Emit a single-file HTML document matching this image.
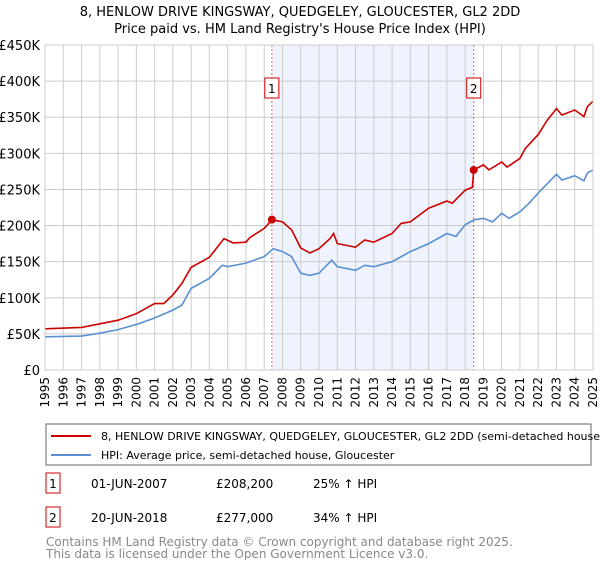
<!DOCTYPE html>
<html><head><meta charset="utf-8"><style>
body{margin:0;background:#fff;font-family:"Liberation Sans","DejaVu Sans",sans-serif;}
svg text{font-family:"DejaVu Sans","Liberation Sans",sans-serif;}
</style></head><body>
<svg id="chart" width="600" height="560" xmlns="http://www.w3.org/2000/svg">
<text x="300" y="16" text-anchor="middle" font-size="13" fill="#000">8, HENLOW DRIVE KINGSWAY, QUEDGELEY, GLOUCESTER, GL2 2DD</text>
<text x="300" y="33" text-anchor="middle" font-size="13" fill="#000">Price paid vs. HM Land Registry's House Price Index (HPI)</text>
<g id="plot"></g>
<g>
<rect x="46" y="424" width="545" height="41" fill="#fff" stroke="#666"/>
<line x1="51" y1="436" x2="91" y2="436" stroke="#cc0000" stroke-width="2"/>
<text x="101" y="440" font-size="11">8, HENLOW DRIVE KINGSWAY, QUEDGELEY, GLOUCESTER, GL2 2DD (semi-detached house)</text>
<line x1="51" y1="455" x2="91" y2="455" stroke="#5b8fd4" stroke-width="2"/>
<text x="101" y="459" font-size="11">HPI: Average price, semi-detached house, Gloucester</text>
</g>
<g>
<rect x="46" y="473" width="14" height="20" fill="#fff" stroke="#cc0000"/>
<text x="53" y="488" text-anchor="middle" font-size="12">1</text>
<text x="91" y="488" font-size="12">01-JUN-2007</text>
<text x="216" y="488" font-size="12">£208,200</text>
<text x="313" y="488" font-size="12">25% ↑ HPI</text>
</g>
<g>
<rect x="46" y="507" width="14" height="20" fill="#fff" stroke="#cc0000"/>
<text x="53" y="522" text-anchor="middle" font-size="12">2</text>
<text x="91" y="522" font-size="12">20-JUN-2018</text>
<text x="216" y="522" font-size="12">£277,000</text>
<text x="313" y="522" font-size="12">34% ↑ HPI</text>
</g>
<text x="46" y="546" font-size="12" fill="#888">Contains HM Land Registry data © Crown copyright and database right 2025.</text>
<text x="46" y="558" font-size="12" fill="#888">This data is licensed under the Open Government Licence v3.0.</text>
</svg>
<script>
const hpiYears=[1995,1997,1998,1999,2000,2001,2002,2002.5,2003,2004,2004.7,2005,2006,2007,2007.5,2008,2008.5,2009,2009.5,2010,2010.7,2011,2012,2012.5,2013,2014,2015,2016,2017,2017.5,2018,2018.5,2019,2019.5,2020,2020.4,2021,2021.5,2022,2022.5,2023,2023.3,2024,2024.5,2024.7,2025];
const hpiValues=[46,47,51,56,63,72,83,90,113,127,145,143,148,157,168,164,157,134,131,134,152,143,138,145,143,150,164,175,189,185,201,208,210,205,217,210,219,231,245,258,271,263,269,262,273,277];
const priceYears=[1995,1997,1998,1999,2000,2001,2001.5,2002,2002.5,2003,2004,2004.8,2005.3,2006,2006.2,2007,2007.42,2008,2008.5,2009,2009.5,2010,2010.6,2010.8,2011,2012,2012.5,2013,2014,2014.5,2015,2016,2017,2017.3,2018,2018.4,2018.47,2019,2019.3,2020,2020.3,2021,2021.3,2022,2022.5,2023,2023.3,2024,2024.5,2024.7,2025];
const priceValues=[57,59,64,69,78,92,92,104,120,142,156,182,176,177,183,196,208,205,194,169,162,168,182,189,175,170,180,177,189,203,205,224,234,231,249,253,277,284,277,288,281,293,307,326,346,362,353,360,351,365,372];
const saleYears=[2007.42,2018.47];
const saleValues=[208.2,277];
const saleLabels=["1","2"];
const yTicks=[0,50,100,150,200,250,300,350,400,450];
const yTickLabels=["£0","£50K","£100K","£150K","£200K","£250K","£300K","£350K","£400K","£450K"];
const xTicks=[1995,1996,1997,1998,1999,2000,2001,2002,2003,2004,2005,2006,2007,2008,2009,2010,2011,2012,2013,2014,2015,2016,2017,2018,2019,2020,2021,2022,2023,2024,2025];

const L=45,R=593,T=45,B=370;
const xS=y=>L+(y-1995)/(2025-1995)*(R-L);
const yS=v=>B-v/450*(B-T);
const NS="http://www.w3.org/2000/svg";
const g=document.getElementById('plot');
function mk(tag,attrs){const e=document.createElementNS(NS,tag);for(const k in attrs)e.setAttribute(k,attrs[k]);g.appendChild(e);return e;}
const shade=mk('rect',{x:xS(saleYears[0]),y:T,width:xS(saleYears[1])-xS(saleYears[0]),height:B-T,fill:'#eef3fd'});


xTicks.forEach(t=>{
 const l=mk('line',{x1:xS(t),x2:xS(t),y1:T,y2:B,stroke:'#cccccc','stroke-width':1});
 
 
 const tx=mk('text',{x:0,y:0,'font-size':12,'text-anchor':'end',transform:`translate(${xS(t)+4},${B+7}) rotate(-90)`});
 tx.textContent=t;
 
 
});
yTicks.forEach((t,i)=>{
 const l=mk('line',{x1:L,x2:R,y1:yS(t),y2:yS(t),stroke:'#cccccc','stroke-width':1});
 
 
 const tx=mk('text',{x:L-5,y:yS(t)+5,'font-size':13,'text-anchor':'end'});
 tx.textContent=yTickLabels[i];
 
 
});
saleYears.forEach((s,i)=>{
 const l=mk('line',{x1:xS(s),x2:xS(s),y1:T,y2:B,stroke:'#e06666','stroke-width':1,'stroke-dasharray':'2,2'});
 
 
 const r=mk('rect',{x:xS(s)-7,y:78,width:14,height:20,fill:'#fff',stroke:'#cc0000'});
 
 
 const tx=mk('text',{x:xS(s),y:93,'font-size':12,'text-anchor':'middle'});
 tx.textContent=saleLabels[i];
 
 
});
function path(xs,vs){return xs.map((x,i)=>(i?'L':'M')+xS(x).toFixed(1)+','+yS(vs[i]).toFixed(1)).join('');}
const hp=mk('path',{d:path(hpiYears,hpiValues),fill:'none',stroke:'#5b8fd4','stroke-width':1.6});


const pp=mk('path',{d:path(priceYears,priceValues),fill:'none',stroke:'#cc0000','stroke-width':1.6});


saleYears.forEach((s,i)=>{
 const c=mk('circle',{cx:xS(s),cy:yS(saleValues[i]),r:4,fill:'#cc0000'});
 
 
});
const bd=mk('rect',{x:L,y:T,width:R-L,height:B-T,fill:'none',stroke:'#cccccc'});


</script>
</body></html>
